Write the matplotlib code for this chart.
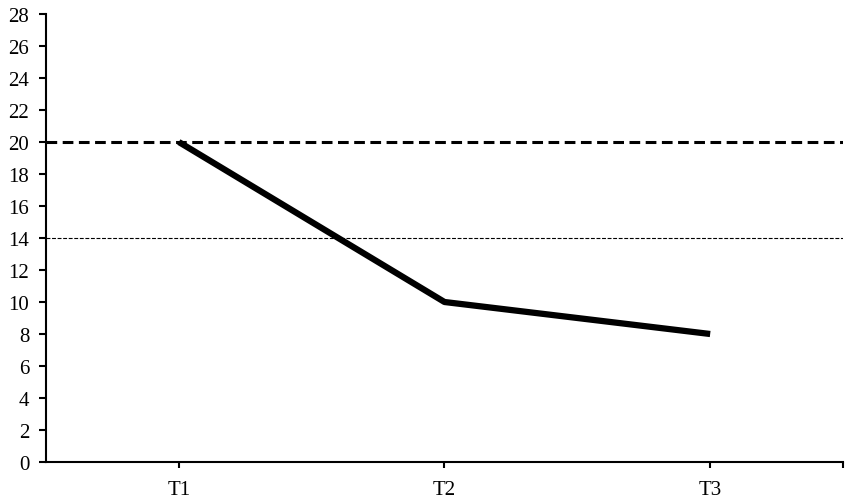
import matplotlib
matplotlib.use('Agg')
import matplotlib.pyplot as plt
import numpy as np

# Data
categories = ['T1', 'T2', 'T3']
values = [20, 10, 8]
upper_ref = 20
lower_ref = 14

plt.rcParams['font.family'] = ['Liberation Serif', 'DejaVu Serif']

fig = plt.figure(figsize=(8.5, 5.02), dpi=100)
ax = fig.add_axes([46 / 850, 39 / 502, (843 - 46) / 850, (463 - 15) / 502])

x = np.arange(len(categories))
ax.plot(x, values, color='black', linewidth=4.5, solid_capstyle='butt', zorder=3)

# reference lines
ax.axhline(upper_ref, color='black', linewidth=2.2, linestyle=(0, (3.5, 1.8)), zorder=2)
ax.axhline(lower_ref, color='black', linewidth=0.8, linestyle=(0, (3.5, 1.5)), zorder=2)

ax.set_xlim(-0.5, len(categories) - 0.5)
ax.set_ylim(0, 28)
ax.set_yticks(range(0, 29, 2))
ax.set_xticks(x)
ax.set_xticklabels(categories)
ax.set_xticks([len(categories) - 0.5], minor=True)

for s in ['top', 'right']:
    ax.spines[s].set_visible(False)
for s in ['left', 'bottom']:
    ax.spines[s].set_linewidth(1.5)

ax.tick_params(axis='y', direction='out', length=5, width=1.5, labelsize=15, pad=7)
ax.tick_params(axis='x', which='both', direction='out', length=4, width=1.5, labelsize=15, pad=9)

fig.savefig('out.png', dpi=100)
